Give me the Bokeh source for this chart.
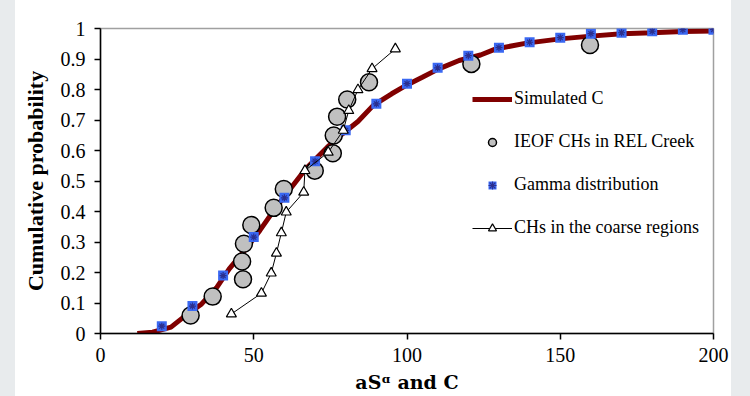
from bokeh.plotting import figure
from bokeh.models import Range1d, FixedTicker, Legend, LegendItem, Spacer
from bokeh.layouts import row
from bokeh.embed import file_html
from bokeh.resources import INLINE

# ---- data ----
sim_x = [12, 17, 23, 27, 33, 38, 42, 47, 52, 56.5, 61, 67, 74, 79, 84, 89, 95, 100,
         105, 110, 117, 124, 129, 139, 150, 160, 170, 180, 190, 200]
sim_y = [0, 0.004, 0.021, 0.053, 0.097, 0.152, 0.212, 0.272, 0.338, 0.403, 0.462, 0.54,
         0.611, 0.655, 0.695, 0.748, 0.786, 0.815, 0.84, 0.866, 0.895, 0.913, 0.933,
         0.952, 0.966, 0.975, 0.983, 0.986, 0.99, 0.992]

ieof_x = [29.4, 36.6, 46.5, 46.2, 46.8, 49.2, 56.5, 59.8, 69.9, 75.8, 76.1, 77.2,
          80.5, 87.6, 121.0, 159.7]
ieof_y = [0.059, 0.121, 0.178, 0.236, 0.294, 0.356, 0.412, 0.474, 0.534, 0.591,
          0.649, 0.711, 0.767, 0.824, 0.884, 0.946]

gamma_x = [20, 30, 40, 50, 60, 70, 80, 90, 100, 110, 120, 130, 140, 150, 160, 170,
           180, 190, 200]
gamma_y = [0.024, 0.09, 0.19, 0.316, 0.445, 0.565, 0.666, 0.753, 0.819, 0.871, 0.911,
           0.937, 0.955, 0.97, 0.983, 0.986, 0.991, 0.996, 0.996]

coarse_x = [42.7, 52.5, 55.7, 57.4, 59.0, 60.6, 66.3, 66.7, 74.3, 79.2, 81.0, 84.0,
            88.6, 96.2]
coarse_y = [0.064, 0.132, 0.198, 0.263, 0.33, 0.398, 0.463, 0.534, 0.594, 0.666,
            0.731, 0.799, 0.868, 0.933]

x_ticks = [0, 50, 100, 150, 200]
y_ticks = [0, 0.1, 0.2, 0.3, 0.4, 0.5, 0.6, 0.7, 0.8, 0.9, 1]
y_tick_labels = ["0", "0.1", "0.2", "0.3", "0.4", "0.5", "0.6", "0.7", "0.8", "0.9", "1"]

series_names = ["Simulated C", "IEOF CHs in REL Creek", "Gamma distribution",
                "CHs in the coarse regions"]
y_title = "Cumulative probability"
x_title = "aSᵅ and C"

FONT = "Liberation Serif"
PAGE_GRAY = "#e8ebed"

p = figure(width=716, height=396, output_backend="svg", toolbar_location=None,
           x_range=Range1d(0, 200), y_range=Range1d(0, 1),
           min_border_left=85, min_border_right=18, min_border_top=28,
           min_border_bottom=63)
p.xgrid.visible = False
p.ygrid.visible = False
p.outline_line_color = "#a0a0a0"
p.outline_line_width = 1.5

# axes
for ax in (p.xaxis[0], p.yaxis[0]):
    ax.axis_line_color = "black"
    ax.axis_line_width = 1.5
    ax.major_tick_line_color = "black"
    ax.major_tick_line_width = 1.5
    ax.major_tick_in = 0
    ax.major_tick_out = 6
    ax.minor_tick_line_color = None
    ax.major_label_text_font = FONT
    ax.major_label_text_font_size = "20px"
    ax.major_label_text_color = "black"
    ax.axis_label_text_font = FONT
    ax.axis_label_text_font_style = "bold"
    ax.axis_label_text_font_size = "22px"
    ax.axis_label_text_color = "black"

p.xaxis.ticker = FixedTicker(ticks=x_ticks)
p.yaxis.ticker = FixedTicker(ticks=y_ticks)
p.yaxis.major_label_overrides = {t: s for t, s in zip(y_ticks, y_tick_labels)}
p.xaxis.major_label_standoff = 8
p.yaxis.major_label_standoff = 9

p.yaxis.axis_label = y_title
p.yaxis.axis_label_standoff = 10
p.xaxis.axis_label = x_title
p.xaxis.axis_label_text_font = "DejaVu Serif"
p.xaxis.axis_label_text_font_size = "19px"
p.xaxis.axis_label_standoff = 6

# series
r_sim = p.line(sim_x, sim_y, line_color="#800000", line_width=5)
r_ieof = p.scatter(ieof_x, ieof_y, marker="circle", size=17, fill_color="#c0c0c0",
                   line_color="black", line_width=1.5)
r_gsq = p.scatter(gamma_x, gamma_y, marker="square", size=10, fill_color="#3a68f2",
                  line_color=None)
r_gx = p.scatter(gamma_x, gamma_y, marker="asterisk", size=7, line_color="#2b2f8f",
                 line_width=1.2)
r_cl = p.line(coarse_x, coarse_y, line_color="black", line_width=1)
r_ct = p.scatter(coarse_x, coarse_y, marker="triangle", size=10, fill_color="white",
                 line_color="black", line_width=1.2)

legend = Legend(items=[
    LegendItem(label=series_names[0], renderers=[r_sim]),
    LegendItem(label=series_names[1], renderers=[r_ieof]),
    LegendItem(label=series_names[2], renderers=[r_gsq, r_gx]),
    LegendItem(label=series_names[3], renderers=[r_cl, r_ct]),
], location=(372, 95))
legend.border_line_color = None
legend.background_fill_alpha = 0
legend.padding = 0
legend.margin = 0
legend.glyph_width = 40
legend.glyph_height = 20
legend.label_height = 20
legend.spacing = 22
legend.label_standoff = 2
legend.label_text_font = FONT
legend.label_text_font_size = "18px"
legend.label_text_color = "black"
p.add_layout(legend, "center")

left_strip = Spacer(width=15, height=396, styles={"background-color": PAGE_GRAY})
right_strip = Spacer(width=19, height=396, styles={"background-color": PAGE_GRAY})
layout = row(left_strip, p, right_strip, spacing=0)

open("out.html", "w").write(file_html(layout, INLINE))
